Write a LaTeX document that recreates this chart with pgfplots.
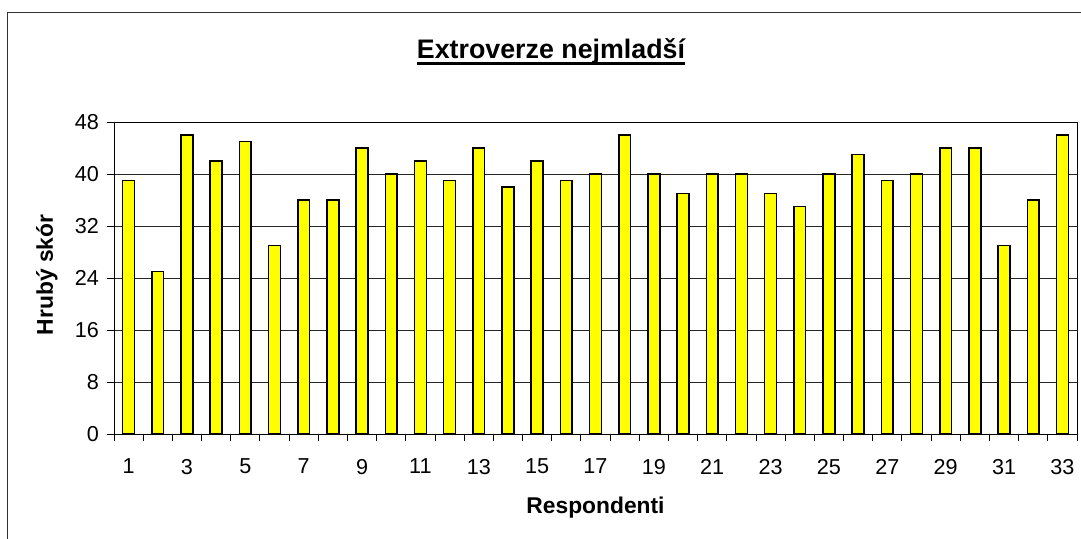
\documentclass[border=0pt]{standalone}
\usepackage{fontspec}
\setmainfont{Liberation Sans}
\usepackage{pgfplots}
\pgfplotsset{compat=1.18}
\definecolor{baryellow}{RGB}{255,255,0}
\begin{document}
\begin{tikzpicture}
\path[use as bounding box] (0,0) rectangle (540.5pt,-269.5pt);
\draw[line width=0.5pt, black!80] (3.75pt,-270pt) -- (3.75pt,-6.5pt) -- (541pt,-6.5pt);
\node[anchor=base, font=\fontsize{13.4}{15}\selectfont\bfseries, inner sep=0pt] (T) at (275.5pt,-29.2pt) {Extroverze nejmladší};
\draw[line width=1.5pt] ([yshift=-2.6pt]T.base west) -- ([yshift=-2.6pt]T.base east);
\begin{axis}[
  at={(57pt,-217pt)}, anchor=south west,
  width=481.5pt, height=156pt, scale only axis,
  xmin=0.5, xmax=33.5, ymin=0, ymax=48,
  ybar, bar width=5.9pt,
  xtick={1,3,...,33},
  minor xtick={0.5,1.5,...,33.5},
  major x tick style={draw=none},
  ytick={0,8,...,48},
  tick align=outside, tick pos=left,
  major tick length=3.5pt, minor tick length=3.5pt,
  axis line style={line width=0.5pt, black},
  tick style={line width=0.5pt, black},
  ymajorgrids, major grid style={line width=0.5pt, black!85},
  /pgf/number format/assume math mode=true,
  ticklabel style={font=\fontsize{10.8}{13}\selectfont},
  xticklabel style={yshift=-5.5pt},
  yticklabel style={xshift=-0.5pt},
  xlabel={Respondenti}, ylabel={Hrubý skór},
  label style={font=\fontsize{11.4}{13}\selectfont\bfseries},
  xlabel style={at={(axis description cs:0.5,-0.237)}, anchor=center},
  ylabel style={at={(axis description cs:-0.0696,0.51)}, anchor=center},
]
\addplot[fill=baryellow, draw=black, line width=0.8pt] coordinates {
(1,39) (2,25) (3,46) (4,42) (5,45) (6,29) (7,36) (8,36) (9,44) (10,40)
(11,42) (12,39) (13,44) (14,38) (15,42) (16,39) (17,40) (18,46) (19,40) (20,37)
(21,40) (22,40) (23,37) (24,35) (25,40) (26,43) (27,39) (28,40) (29,44) (30,44)
(31,29) (32,36) (33,46)};
\end{axis}
\end{tikzpicture}
\end{document}
